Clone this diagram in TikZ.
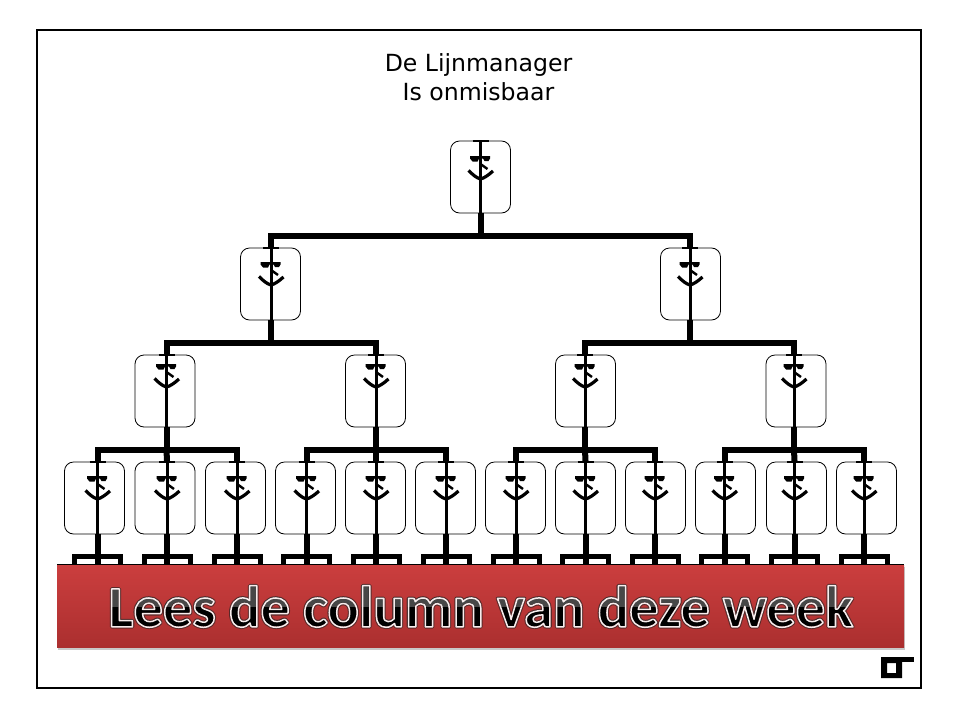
\documentclass[tikz,border=0pt]{standalone}
\usepackage{fontspec}
\setmainfont{DejaVu Sans}
\newfontfamily\bannerfont{Carlito}
\usetikzlibrary{calc}
\definecolor{bannertop}{HTML}{CB3E3E}
\definecolor{bannermid}{HTML}{C23A3A}
\definecolor{bannerbot}{HTML}{AB2F2F}
\tikzset{
  x=1pt,y=-1pt,
  personbox/.style={draw=black,line width=0.8pt,rounded corners=9pt,fill=white,minimum width=60pt,minimum height=72pt,inner sep=0pt},
  body/.style={draw=black,line width=3pt},
  trunk/.style={draw=black,line width=6pt},
  bus/.style={draw=black,line width=6pt,line cap=rect},
  smile/.style={draw=black,line width=3.2pt,line join=round},
  leg/.style={draw=black,line width=5pt},
  titletext/.style={font=\fontsize{23.6pt}{29pt}\selectfont,align=center,text=black,inner sep=0pt},
  bannertext/.style={font=\bannerfont\bfseries\fontsize{58.6pt}{60pt}\selectfont,inner sep=0pt},
}
% stroked text via the PDF text rendering mode
\newcommand{\strokedtext}[3]{% width, R G B, text
  \special{pdf:code q 1 Tr #1 w 1 j #2 RG}#3\special{pdf:code Q}}
% person: name, box centre x, line x, box top y, face offset
\newcommand{\person}[5]{%
  \node[personbox] (#1) at (#2,#4+36) {};
  \coordinate (#1t) at (#3,#4-1);
  \coordinate (#1b) at (#3,#4+72);
  \coordinate (#1f) at (#3,#4+15+#5);
  \draw[body] (#1t) -- (#1b);
  \draw[draw=black,line width=1.5pt] ($(#1t)+(-8,0.8)$) -- ($(#1t)+(8,0.8)$);
  \fill[black] ($(#1f)+(-10.5,0)$) -- ($(#1f)+(9.5,0)$) -- ($(#1f)+(9.5,2.5)$) -- ($(#1f)+(8,5)$) -- ($(#1f)+(4,5)$) -- ($(#1f)+(2.5,2.5)$) -- ($(#1f)+(-1.5,2.5)$) -- ($(#1f)+(-3,5.5)$) -- ($(#1f)+(-8,5.5)$) -- ($(#1f)+(-10.5,2.5)$) -- cycle;
  \draw[black,line width=2.4pt] ($(#1f)+(0,8)$) -- ($(#1f)+(7,13)$);
  \draw[smile] ($(#1f)+(-12,14.5)$) .. controls ($(#1f)+(-8,18.5)$) and ($(#1f)+(-4,22)$) .. ($(#1f)+(0,23)$) .. controls ($(#1f)+(4,22)$) and ($(#1f)+(8,19)$) .. ($(#1f)+(12.5,15)$);
}
% trunk to a bus, and branches to children
\newcommand{\tree}[3]{% parent, left child, right child
  \coordinate (#1bus) at ($(#1b)+(0,23)$);
  \draw[trunk] (#1b) -- (#1bus);
  \draw[bus] (#2t |- #1bus) -- (#3t |- #1bus);
  \draw[trunk] (#2t |- #1bus) -- (#2t);
  \draw[trunk] (#3t |- #1bus) -- (#3t);
}
\begin{document}
\begin{tikzpicture}
\useasboundingbox (0,0) rectangle (960,720);
\fill[white] (0,0) rectangle (960,720);
\draw[black,line width=2pt] (37,30) rectangle (921,688);
\node[titletext] (title) at (478.5,77.5) {De Lijnmanager\\Is onmisbaar};
% people
\person{a}{480.5}{480.5}{141}{0}
\person{b1}{270.5}{271}{248}{-1}
\person{b2}{690.5}{690}{248}{-1}
\person{c1}{165}{166.5}{355}{-6}
\person{c2}{375.5}{376}{355}{-6}
\person{c3}{585.5}{585}{355}{-6}
\person{c4}{796}{794}{355}{-6}
\foreach \n/\cx/\lx in {1/94.5/97.5,2/165/167,3/235.5/237,4/305.5/306.5,5/375.5/376,6/445.5/446,7/515.5/516,8/585.5/585.5,9/655.5/655,10/725.5/724.5,11/796.5/794.5,12/866.5/864}{
  \person{d\n}{\cx}{\lx}{462}{-1}
}
% tree
\tree{a}{b1}{b2}
\tree{b1}{c1}{c2}
\tree{b2}{c3}{c4}
\tree{c1}{d1}{d3}
\tree{c2}{d4}{d6}
\tree{c3}{d7}{d9}
\tree{c4}{d10}{d12}
\draw[trunk] (c1bus) -- (d2t);
\draw[trunk] (c2bus) -- (d5t);
\draw[trunk] (c3bus) -- (d8t);
\draw[trunk] (c4bus) -- (d11t);
% brackets
\foreach \n in {1,...,12}{
  \coordinate (e\n) at ($(d\n b)+(0,23)$);
  \draw[trunk] (d\n b) -- ($(d\n b)+(0,31)$);
  \draw[leg] ($(e\n)+(-23,10)$) -- ($(e\n)+(-23,-1)$) -- ($(e\n)+(23,-1)$) -- ($(e\n)+(23,10)$);
}
% banner
\fill[black!35,opacity=.6] (58,567) rectangle (905,650);
\shade[top color=bannertop,middle color=bannermid,bottom color=bannerbot] (57,565) rectangle (904,647);
\draw[black,line width=0.7pt] (57,564.5) -- (904,564.5);
\coordinate (banner) at (481,606.5);
\node[bannertext] at (banner) {\strokedtext{3.6}{.35 .16 .16}{Lees de column van deze week}};
\node[bannertext,text=black] at (banner) {Lees de column van deze week};
\begin{scope}
  \clip (57,565) rectangle (904,606);
  \node[bannertext,text=black!72] at (banner) {Lees de column van deze week};
\end{scope}
\node[bannertext] at (banner) {\strokedtext{1.5}{.97 .93 .93}{Lees de column van deze week}};
% logo
\fill[black,even odd rule] (881,657) rectangle (902,678) (887,663) rectangle (896,673);
\fill[black] (902,657) rectangle (914,662);
\end{tikzpicture}
\end{document}
